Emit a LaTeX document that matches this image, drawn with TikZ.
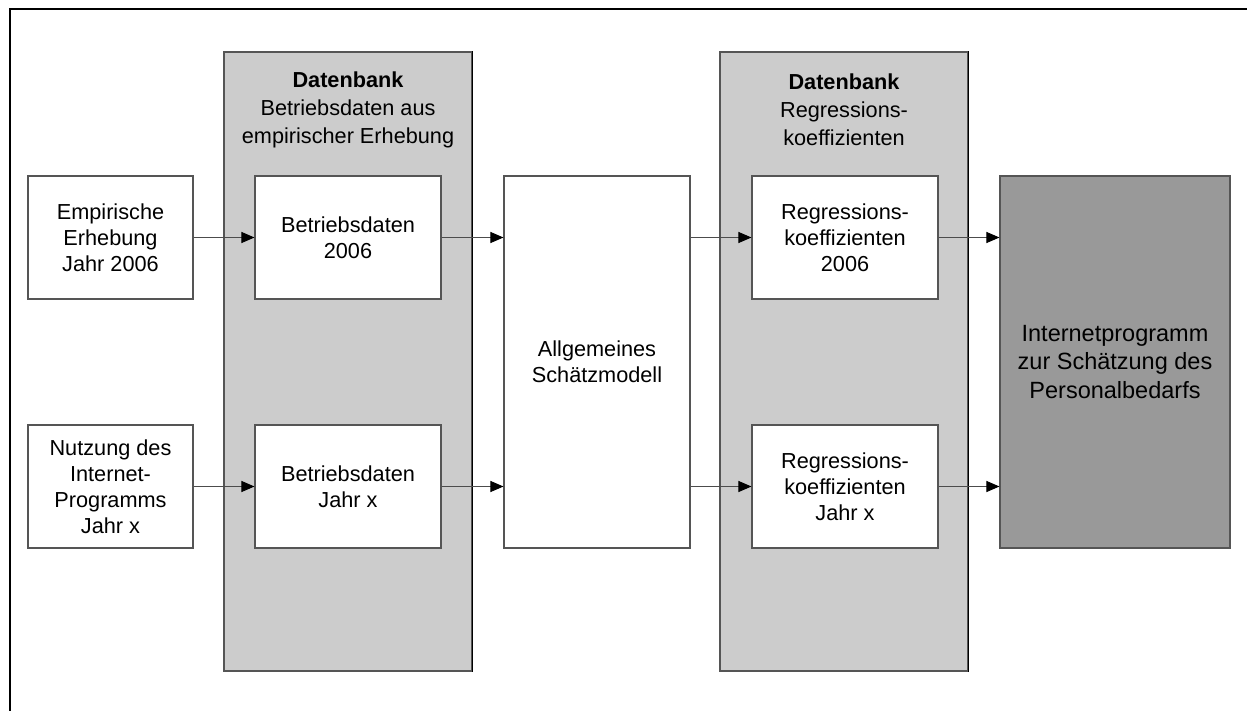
\documentclass[tikz,border=0pt]{standalone}
\usepackage{fontspec}
\setmainfont{Liberation Sans}
\usetikzlibrary{arrows.meta}
\definecolor{dbgray}{HTML}{CCCCCC}
\definecolor{outgray}{HTML}{999999}
\definecolor{edgegray}{HTML}{555555}
\begin{document}
\begin{tikzpicture}[x=1pt,y=-1pt,
  txt/.style={font=\fontsize{21.7}{26}\selectfont, align=center},
  hdr/.style={font=\fontsize{21.7}{28}\selectfont, align=center},
  dbbox/.style={draw=edgegray, fill=dbgray, line width=1.1pt, inner sep=0pt},
  wbox/.style={draw=edgegray, fill=white, line width=1.1pt, inner sep=0pt, txt},
  small/.style={wbox, minimum width=186pt, minimum height=123pt},
  flow/.style={draw=black!70, line width=1pt, -{Triangle[length=13pt,width=11pt,fill=black,color=black]}}
]
\useasboundingbox (0,0) rectangle (1247,711);
% outer frame (only left and top visible)
\draw[line width=2.8pt, line join=miter] (10,711) -- (10,9) -- (1247,9);

% database containers
\node[dbbox, minimum width=248pt, minimum height=619pt] (db1) at (348,361.5) {};
\node[dbbox, minimum width=248pt, minimum height=619pt] (db2) at (844,361.5) {};
\draw[line width=1.1pt] (db1.north east) -- (db1.south east);
\draw[line width=1.1pt] (db2.north east) -- (db2.south east);
\node[hdr] (db1t) at (348,109.5) {\textbf{Datenbank}\\Betriebsdaten aus\\empirischer Erhebung};
\node[hdr] (db2t) at (844,109.5) {\textbf{Datenbank}\\Regressions-\\koeffizienten};

% left input boxes
\node[wbox, minimum width=165pt, minimum height=123pt] (emp) at (110.5,237.5) {Empirische\\Erhebung\\Jahr 2006};
\node[wbox, minimum width=165pt, minimum height=123pt] (nutz) at (110.5,486.5) {Nutzung des\\Internet-\\Programms\\Jahr x};

% data boxes
\node[small] (b06) at (348,237.5) {Betriebsdaten\\2006};
\node[small] (bjx) at (348,486.5) {Betriebsdaten\\Jahr x};

% model
\node[wbox, minimum width=186pt, minimum height=372pt] (allg) at (597,362) {Allgemeines\\Schätzmodell};

% regression boxes
\node[small] (r06) at (845,237.5) {Regressions-\\koeffizienten\\2006};
\node[small] (rjx) at (845,486.5) {Regressions-\\koeffizienten\\Jahr x};

% output
\node[wbox, fill=outgray, minimum width=230pt, minimum height=372pt,
      font=\fontsize{23.5}{28.5}\selectfont] (inet) at (1115,362) {Internetprogramm\\zur Schätzung des\\Personalbedarfs};

% connectors
\draw[flow] (emp.east) -- (b06.west);
\draw[flow] (nutz.east) -- (bjx.west);
\draw[flow] (b06.east) -- (b06.east -| allg.west);
\draw[flow] (bjx.east) -- (bjx.east -| allg.west);
\draw[flow] (r06.west -| allg.east) -- (r06.west);
\draw[flow] (rjx.west -| allg.east) -- (rjx.west);
\draw[flow] (r06.east) -- (r06.east -| inet.west);
\draw[flow] (rjx.east) -- (rjx.east -| inet.west);
\end{tikzpicture}
\end{document}
